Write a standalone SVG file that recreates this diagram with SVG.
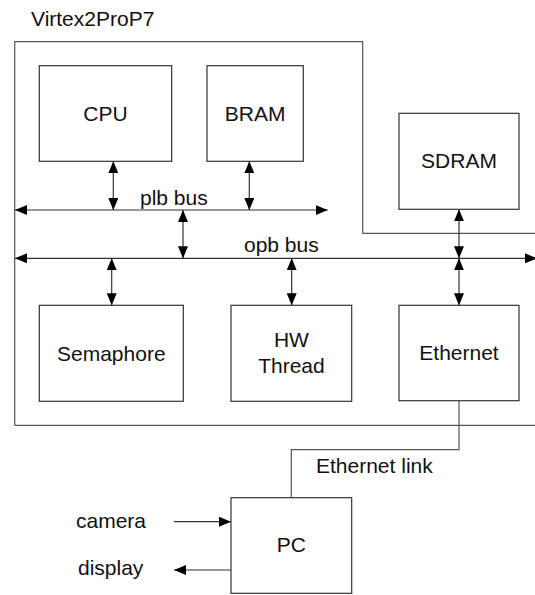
<svg xmlns="http://www.w3.org/2000/svg" width="535" height="595" viewBox="0 0 535 595">
  <style>
    .box { fill: #ffffff; stroke: #333333; stroke-width: 1.2; }
    .frame { fill: none; stroke: #555555; stroke-width: 1.2; }
    .wire { fill: none; stroke: #333333; stroke-width: 1.2; }
    .link { fill: none; stroke: #555555; stroke-width: 1.2; }
    text { font-family: "Liberation Sans", Arial, sans-serif; font-size: 21px; fill: #111111; }
    .c { text-anchor: middle; }
  </style>
  <defs>
    <marker id="head" viewBox="0 0 12 10" refX="12" refY="5" markerWidth="12" markerHeight="10" markerUnits="userSpaceOnUse" orient="auto-start-reverse">
      <path d="M0,0 L12,5 L0,10 Z" fill="#000000"/>
    </marker>
  </defs>
  <rect width="535" height="595" fill="#ffffff"/>

  <!-- FPGA boundary -->
  <g id="fpga">
    <polyline class="frame" points="14.7,425.3 14.7,41.7 362.7,41.7 362.7,233.3 535,233.3"/>
    <line class="frame" x1="14.7" y1="425.3" x2="535" y2="425.3"/>
    <text x="31" y="25.5">Virtex2ProP7</text>
  </g>

  <!-- connectors -->
  <g id="connectors">
    <!-- plb bus -->
    <line class="wire" x1="15" y1="210" x2="327.7" y2="210" marker-start="url(#head)" marker-end="url(#head)"/>
    <!-- opb bus -->
    <line class="wire" x1="15" y1="258.3" x2="537" y2="258.3" marker-start="url(#head)" marker-end="url(#head)"/>
    <!-- taps -->
    <line class="wire" x1="113.3" y1="161.3" x2="113.3" y2="210" marker-start="url(#head)" marker-end="url(#head)"/>
    <line class="wire" x1="249.3" y1="161.3" x2="249.3" y2="210" marker-start="url(#head)" marker-end="url(#head)"/>
    <line class="wire" x1="183" y1="210" x2="183" y2="258.3" marker-start="url(#head)" marker-end="url(#head)"/>
    <line class="wire" x1="111.7" y1="258.3" x2="111.7" y2="305.3" marker-start="url(#head)" marker-end="url(#head)"/>
    <line class="wire" x1="291.7" y1="258.3" x2="291.7" y2="305.3" marker-start="url(#head)" marker-end="url(#head)"/>
    <line class="wire" x1="459" y1="209.3" x2="459" y2="258.3" marker-start="url(#head)" marker-end="url(#head)"/>
    <line class="wire" x1="459" y1="258.3" x2="459" y2="305.3" marker-start="url(#head)" marker-end="url(#head)"/>
    <!-- Ethernet link to PC -->
    <polyline class="link" points="459,400.7 459,449.7 291.3,449.7 291.3,497.7"/>
    <!-- camera / display -->
    <line class="wire" x1="174" y1="521.7" x2="231" y2="521.7" marker-end="url(#head)"/>
    <line class="wire" x1="231" y1="570" x2="174" y2="570" marker-end="url(#head)"/>
  </g>

  <text x="140" y="205">plb bus</text>
  <text x="244" y="251.7">opb bus</text>
  <text x="316" y="473">Ethernet link</text>
  <text x="76" y="528">camera</text>
  <text x="78" y="575">display</text>

  <g id="cpu">
    <rect class="box" x="39.3" y="65.7" width="132.4" height="95.6"/>
    <text class="c" x="105.5" y="120.7">CPU</text>
  </g>
  <g id="bram">
    <rect class="box" x="207" y="65.7" width="96.3" height="95.6"/>
    <text class="c" x="255.2" y="120.7">BRAM</text>
  </g>
  <g id="sdram">
    <rect class="box" x="399" y="113.3" width="120" height="96"/>
    <text class="c" x="459" y="168.3">SDRAM</text>
  </g>
  <g id="semaphore">
    <rect class="box" x="39.3" y="305.3" width="144" height="96"/>
    <text class="c" x="111.3" y="360.7">Semaphore</text>
  </g>
  <g id="hwthread">
    <rect class="box" x="231" y="305.3" width="120.7" height="96"/>
    <text class="c" x="291.4" y="346.7">HW</text>
    <text class="c" x="291.4" y="372.7">Thread</text>
  </g>
  <g id="ethernet">
    <rect class="box" x="399" y="305.3" width="120" height="95.4"/>
    <text class="c" x="459" y="360">Ethernet</text>
  </g>
  <g id="pc">
    <rect class="box" x="231" y="497.7" width="120.7" height="95.6"/>
    <text class="c" x="291.4" y="551.7">PC</text>
  </g>
</svg>
